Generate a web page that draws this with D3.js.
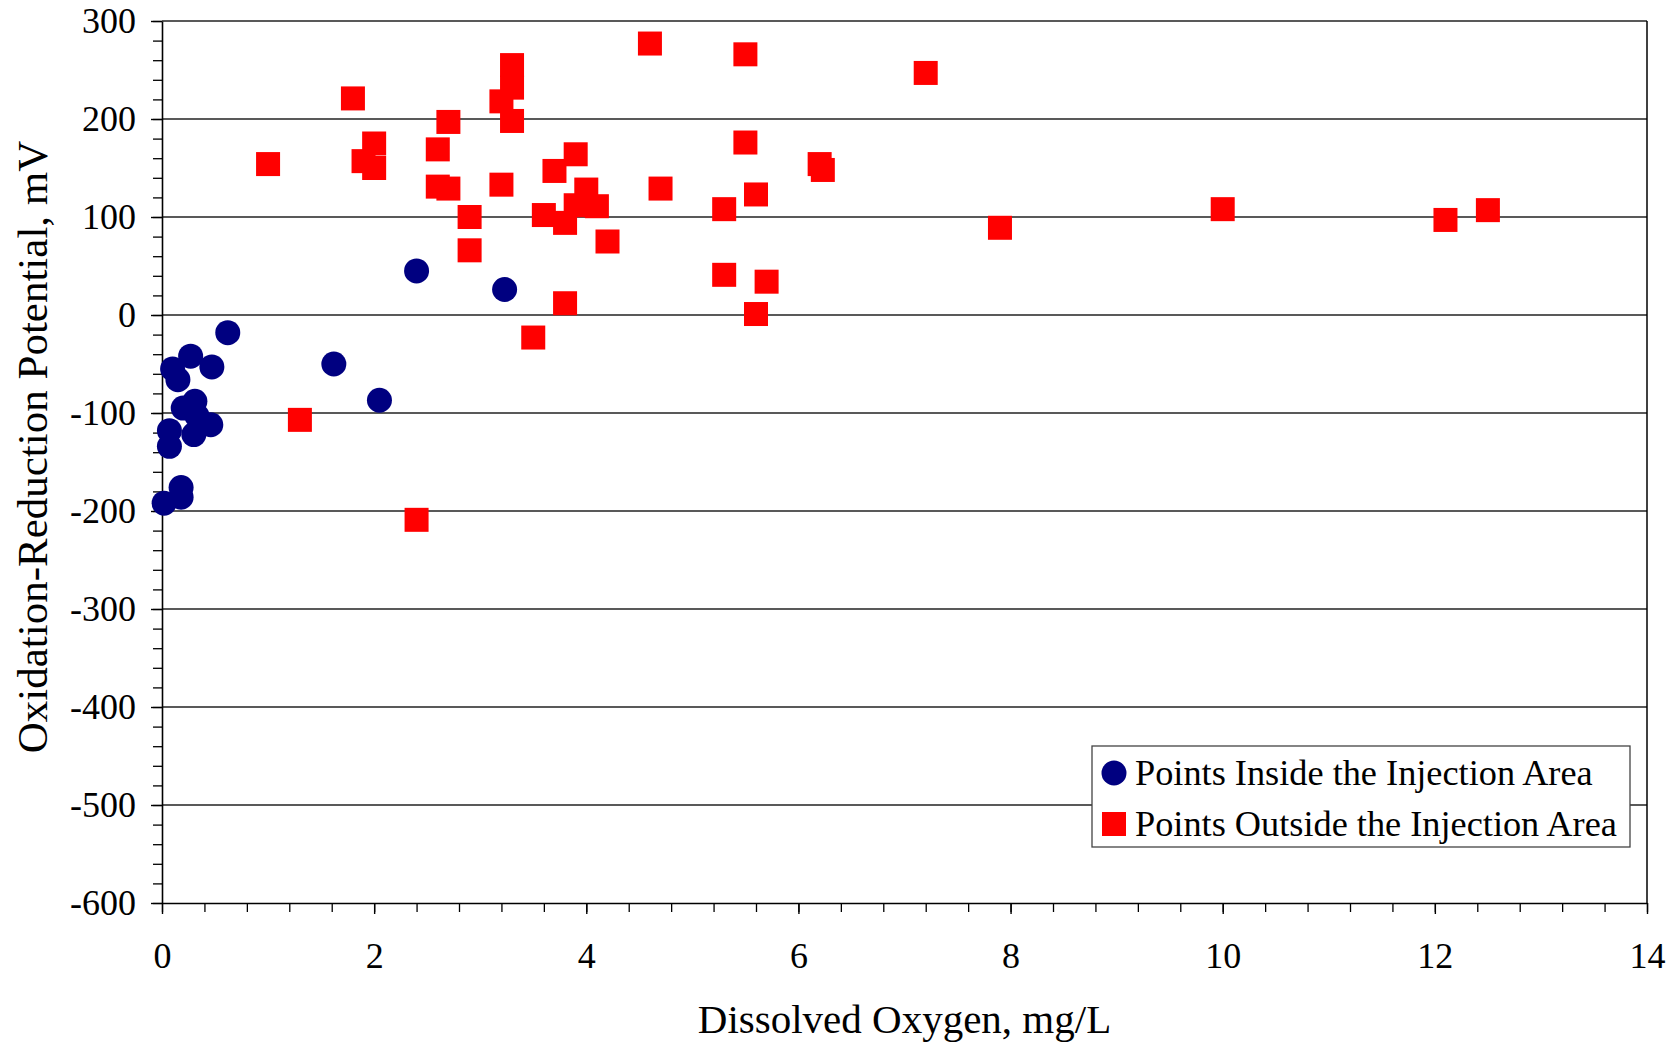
<!DOCTYPE html>
<html>
<head>
<meta charset="utf-8">
<script src="https://cdn.jsdelivr.net/npm/d3@7"></script>
<style>
  body { margin: 0; background: #fff; }
  svg { display: block; }
</style>
</head>
<body>
<script>
// Dissolved oxygen (mg/L) and ORP (mV)
var insideDO  = [0.02, 0.18, 0.18, 0.07, 0.07, 0.30, 0.46, 0.20, 0.31, 0.33, 0.15, 0.10, 0.27, 0.47, 0.62, 1.62, 2.05, 2.40, 3.23];
var insideORP = [-192, -186, -176, -134, -118, -122, -112, -95, -88, -103, -66, -55, -42, -53, -18, -50, -87, 45, 26];

var outsideDO  = [1.00, 1.30, 1.80, 1.90, 2.00, 2.00, 2.40, 2.60, 2.60, 2.70, 2.70, 2.90, 2.90,
                  3.20, 3.20, 3.30, 3.30, 3.30, 3.50, 3.60, 3.70, 3.80, 3.80, 3.90, 3.90, 4.00,
                  4.10, 4.20, 4.60, 4.70, 5.30, 5.30, 5.50, 5.50, 5.60, 5.60, 5.70, 6.20, 6.23,
                  7.20, 7.90, 10.00, 12.10, 12.50];
var outsideORP = [154, -107, 221, 157, 175, 150, -209, 169, 131, 197, 129, 100, 66,
                  218, 133, 255, 232, 198, -23, 102, 147, 94, 12, 164, 112, 128,
                  111, 75, 277, 129, 108, 41, 266, 176, 123, 1, 34, 154, 148,
                  247, 89, 108, 97, 107];

var xTicks = [0, 2, 4, 6, 8, 10, 12, 14];
var yTicks = [-600, -500, -400, -300, -200, -100, 0, 100, 200, 300];
var seriesNames = ["Points Inside the Injection Area", "Points Outside the Injection Area"];

var W = 1680, H = 1045;
var plotL = 162, plotR = 1647, plotT = 21, plotB = 903;
var font = "'Liberation Serif', 'Times New Roman', serif";

var svg = d3.select("body").append("svg").attr("width", W).attr("height", H);

var x = d3.scaleLinear().domain([0, 14]).range([plotL, plotR]);
var y = d3.scaleLinear().domain([-600, 300]).range([plotB, plotT]);

// gridlines
svg.append("g").selectAll("line.grid").data(yTicks.slice(1)).enter().append("line")
   .attr("class", "grid")
   .attr("x1", plotL).attr("x2", plotR)
   .attr("y1", d => y(d)).attr("y2", d => y(d))
   .attr("stroke", "#222").attr("stroke-width", 1.3);

// right border
svg.append("line").attr("x1", plotR).attr("x2", plotR).attr("y1", plotT).attr("y2", plotB)
   .attr("stroke", "#000").attr("stroke-width", 1.5);

// minor ticks
var yMinor = d3.range(-600, 301, 20);
var xMinor = d3.range(0, 14.01, 0.4);
svg.append("g").attr("transform", "translate(" + plotL + ",0)")
   .call(d3.axisLeft(y).tickValues(yMinor).tickSize(9).tickFormat(""))
   .call(g => g.select(".domain").remove())
   .selectAll("line").attr("stroke", "#000").attr("stroke-width", 1.3);
svg.append("g").attr("transform", "translate(0," + plotB + ")")
   .call(d3.axisBottom(x).tickValues(xMinor).tickSize(9).tickFormat(""))
   .call(g => g.select(".domain").remove())
   .selectAll("line").attr("stroke", "#000").attr("stroke-width", 1.3);

// major axes (plain hyphen for negatives, as in the original)
var plain = d => String(d);
var yAxis = svg.append("g").attr("transform", "translate(" + plotL + ",0)")
   .call(d3.axisLeft(y).tickValues(yTicks).tickFormat(plain).tickSize(11).tickSizeOuter(0).tickPadding(15));
var xAxis = svg.append("g").attr("transform", "translate(0," + plotB + ")")
   .call(d3.axisBottom(x).tickValues(xTicks).tickFormat(plain).tickSize(11).tickSizeOuter(0).tickPadding(28));
[yAxis, xAxis].forEach(function(g){
   g.select(".domain").attr("stroke", "#000").attr("stroke-width", 1.6);
   g.selectAll("line").attr("stroke", "#000").attr("stroke-width", 1.4);
   g.selectAll("text").attr("font-family", font).attr("font-size", 36).attr("fill", "#000");
});

// points
svg.append("g").selectAll("rect.out").data(outsideDO).enter().append("rect")
   .attr("class", "out")
   .attr("x", (d, i) => x(d) - 12).attr("y", (d, i) => y(outsideORP[i]) - 12)
   .attr("width", 24).attr("height", 24)
   .attr("fill", "#ff0000");
svg.append("g").selectAll("circle.in").data(insideDO).enter().append("circle")
   .attr("class", "in")
   .attr("cx", d => x(d)).attr("cy", (d, i) => y(insideORP[i]))
   .attr("r", 12.5)
   .attr("fill", "#000080");

// axis titles
svg.append("text").text("Dissolved Oxygen, mg/L")
   .attr("x", (plotL + plotR) / 2).attr("y", 1033)
   .attr("text-anchor", "middle")
   .attr("font-family", font).attr("font-size", 41).attr("fill", "#000");
svg.append("text").text("Oxidation-Reduction Potential, mV")
   .attr("transform", "translate(47,447) rotate(-90)")
   .attr("text-anchor", "middle")
   .attr("font-family", font).attr("font-size", 43).attr("fill", "#000");

// legend
var leg = svg.append("g");
leg.append("rect").attr("x", 1092).attr("y", 746).attr("width", 538).attr("height", 101)
   .attr("fill", "#fff").attr("stroke", "#444").attr("stroke-width", 1.3);
leg.append("circle").attr("cx", 1114).attr("cy", 773).attr("r", 12.5).attr("fill", "#000080");
leg.append("rect").attr("x", 1102).attr("y", 812).attr("width", 24).attr("height", 24).attr("fill", "#ff0000");
leg.selectAll("text.leg").data(seriesNames).enter().append("text")
   .attr("class", "leg")
   .text(d => d)
   .attr("x", 1135).attr("y", (d, i) => 785 + i * 51)
   .attr("font-family", font).attr("font-size", 36.3).attr("fill", "#000");
</script>
</body>
</html>
